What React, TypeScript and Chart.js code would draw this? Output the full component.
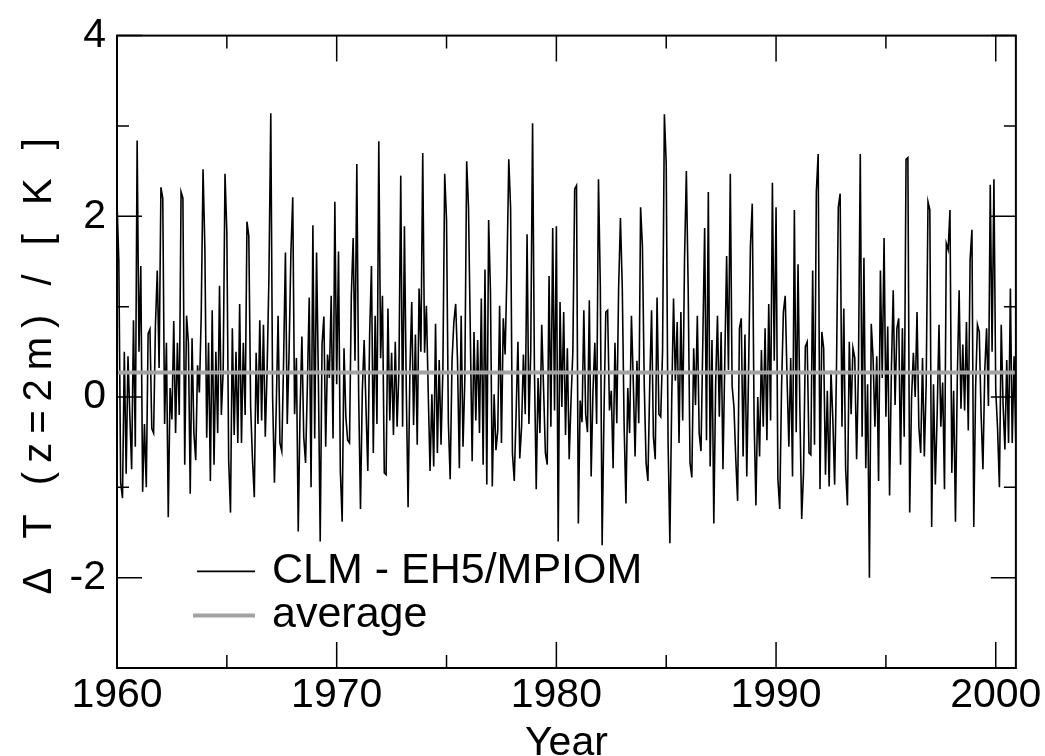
import React, { useEffect, useRef } from "react";
import { Chart, registerables } from "chart.js";

Chart.register(...registerables);

const FONT = '"Liberation Sans", Arial, Helvetica, sans-serif';

const START_YEAR = 1960;
const X_TICKS = [1960, 1970, 1980, 1990, 2000];
const X_MINOR = [1965, 1975, 1985, 1995];
const Y_TICKS = [-2, 0, 2, 4];
const Y_MINOR = [-1, 1, 3];
const Y_MIN = -3;
const Y_MAX = 4;

const X_TITLE = "Year";
const Y_TITLE = "Δ T (z=2m) / [ K ]";
const SERIES_LABEL = "CLM - EH5/MPIOM";
const AVERAGE_LABEL = "average";
const AVERAGE = 0.27;

// monthly 2 m temperature difference [K], Jan 1960 ... Dec 2000
const t1960s = [
  2.16, 1.5, -0.95, -1.12, 0.5, -0.85, 0.45, -0.2, -0.8, 0.85, -0.55, 2.84,
  0.5, 1.45, -1.05, -0.3, -1.0, 0.7, 0.75, -0.35, -0.4, 0.8, 1.4, 0.32,
  2.32, 2.2, -0.3, 0.6, -1.33, 0.1, -0.25, 0.84, -0.4, 0.6, -0.2, 2.27,
  2.2, -0.75, 0.9, 0.6, -1.07, 0.65, -0.4, -0.7, 0.35, 0.05, 0.9, 2.52,
  1.65, -0.45, 0.6, -0.93, 0.96, -0.75, 0.5, -0.4, 1.23, -0.2, 0.3, 2.47,
  1.82, -0.7, -1.28, 0.76, -0.42, 0.5, -0.51, 1.03, -0.51, 0.6, -0.2, 1.94,
  1.78, -0.11, -0.69, -1.11, 0.49, -0.3, 0.85, -0.26, 0.8, -0.44, 0.3, 1.34,
  3.14, 0.0, -0.95, -0.1, 0.9, -0.51, -0.6, 0.4, 1.6, -0.3, 0.5, 1.6,
  2.21, -0.19, 0.43, -1.49, -0.15, 0.67, -0.44, -0.73, 0.14, 1.1, -1.0, 1.9,
  -0.46, 1.6, 0.2, -1.6, 0.58, 0.89, -0.55, 0.47, 0.21, 1.12, -0.46, 2.16,
];
const t1970s = [
  0.14, 1.61, -0.82, -1.38, 0.54, -0.22, -0.48, -0.51, 1.12, 1.76, 0.4, 2.58,
  0.03, -1.24, 0.07, 0.63, -0.11, -0.82, 0.69, 1.45, -0.62, 0.9, -0.3, 2.83,
  0.43, 1.12, -0.84, -0.86, 0.98, -0.26, 0.49, -0.42, 0.61, -0.33, 0.3, 2.45,
  -0.33, 1.89, 0.1, -1.22, 0.29, 1.05, -0.31, 0.69, -0.53, 1.2, 0.5, 2.7,
  0.49, 1.01, 0.05, -0.82, 0.03, -0.77, 0.81, -0.62, 0.41, -0.53, 0.3, 2.47,
  1.96, -0.28, -0.91, 0.4, 0.83, 1.03, 0.4, -0.79, 0.9, -0.55, 0.2, 2.61,
  2.1, 0.69, -0.71, 0.72, -0.26, 0.63, -0.4, 1.09, -0.75, 1.41, -0.97, 1.96,
  1.16, -0.99, 0.03, -0.59, -0.37, 1.01, -0.51, 0.87, 0.47, 1.38, 2.63, 2.09,
  -0.62, -0.93, -0.19, 0.61, -0.68, -0.33, 0.47, -0.19, 1.8, -0.3, 0.5, 3.03,
  0.32, -1.02, 0.21, -0.4, 0.8, 0.1, -0.62, -0.75, 1.34, -0.33, 1.87, -0.15,
];
const t1980s = [
  1.89, -1.6, 1.05, -0.11, 0.94, -0.42, 0.54, -0.69, -0.04, 0.5, 2.3, 2.34,
  -1.4, -0.04, -0.28, 0.96, -0.19, -0.39, 1.07, -0.88, 0.07, 0.6, -0.3, 2.41,
  1.23, -1.64, -0.2, 0.94, 0.96, -0.15, 0.07, -0.79, 0.6, -0.29, 1.2, 1.98,
  1.21, -0.31, -1.18, 0.1, -0.4, 0.9, 0.18, -0.66, 0.4, -0.29, 2.1, 1.67,
  0.14, -0.73, -0.93, 0.14, 0.96, -0.44, -0.69, 1.1, -0.19, -0.22, 0.5, 3.13,
  2.58, -0.48, -1.62, -0.04, 1.09, 0.18, 0.83, -0.51, 0.94, -0.26, 1.52, 2.5,
  1.2, -0.73, -0.89, 0.54, -0.09, 0.9, -0.4, -0.6, 0.63, 1.87, -0.48, 2.27,
  -0.77, 0.63, -1.4, 0.14, 0.9, -0.22, 0.72, -0.8, 0.4, 1.56, 0.3, 2.47,
  0.12, -0.11, -0.69, -1.15, 0.76, 0.87, -0.66, 0.69, -0.88, 0.3, 1.67, 2.14,
  -0.24, -1.2, 0.0, -0.66, 0.52, -0.33, 0.76, -0.48, 1.03, -0.26, 2.37, 0.4,
];
const t1990s = [
  2.1, -0.91, -1.24, 0.1, 0.94, 1.12, 0.21, -0.55, 0.43, -0.88, 2.07, -0.39,
  1.47, -0.11, -1.35, -0.84, 0.56, 0.61, -0.62, -0.64, 1.4, -0.53, 2.27, 2.69,
  -1.02, 0.72, 0.54, -0.86, 0.07, -0.99, 0.29, -0.24, -0.97, 0.3, 2.1, 2.25,
  -0.33, 0.98, -0.8, -1.2, 0.61, -0.19, 0.54, 0.43, -0.69, 0.3, 2.69, -0.44,
  1.54, -0.79, 0.14, -2.0, 0.81, 0.43, -0.33, 0.45, -0.93, 1.4, 0.21, 1.76,
  -0.22, 0.78, -1.09, 0.3, 1.18, -0.09, 0.76, 0.87, -0.75, 0.76, -0.44, 2.63,
  2.65, -1.28, -0.02, 0.49, 0.0, 0.94, -0.33, -0.62, 0.43, -0.66, 0.14, 2.16,
  2.07, -1.44, 0.14, -0.97, -0.19, 0.8, -0.33, 0.16, -1.02, 1.7, 1.63, 2.07,
  -0.84, 0.07, -1.38, 0.21, 1.18, -0.13, 0.58, -0.15, 0.83, -0.37, 1.52, 1.85,
  -1.44, 0.1, 0.8, 0.72, -0.19, -0.8, 0.29, 0.76, -0.1, 2.35, 0.5, 2.41,
];
const t2000s = [
  0.07, -0.35, -1.0, 0.8, -0.08, -0.58, 0.41, -0.51, 1.2, -0.51, 0.45, -0.55,
];

export default function App() {
  const ref = useRef<HTMLCanvasElement>(null);

  useEffect(() => {
    if (!ref.current) return;
    const anomaly = [...t1960s, ...t1970s, ...t1980s, ...t1990s, ...t2000s];
    const points = anomaly.map((v, i) => ({ x: START_YEAR + i / 12, y: v }));
    const xEnd = START_YEAR + (anomaly.length - 1) / 12;
    const avgPoints = [
      { x: START_YEAR, y: AVERAGE },
      { x: xEnd, y: AVERAGE },
    ];

    const framePlugin = {
      id: "frame",
      afterDraw(chart: any) {
        const { ctx, chartArea: a, scales } = chart;
        const xs = scales.x;
        const ys = scales.y;
        ctx.save();
        ctx.strokeStyle = "#000";
        ctx.lineWidth = 2;
        ctx.strokeRect(a.left, a.top, a.right - a.left, a.bottom - a.top);
        ctx.lineWidth = 1.5;
        const vline = (px: number, len: number) => {
          ctx.beginPath();
          ctx.moveTo(px, a.bottom);
          ctx.lineTo(px, a.bottom - len);
          ctx.moveTo(px, a.top);
          ctx.lineTo(px, a.top + len);
          ctx.stroke();
        };
        const hline = (py: number, len: number) => {
          ctx.beginPath();
          ctx.moveTo(a.left, py);
          ctx.lineTo(a.left + len, py);
          ctx.moveTo(a.right, py);
          ctx.lineTo(a.right - len, py);
          ctx.stroke();
        };
        X_TICKS.forEach((v) => vline(xs.getPixelForValue(v), 26));
        X_MINOR.forEach((v) => vline(xs.getPixelForValue(v), 13));
        Y_TICKS.forEach((v) => hline(ys.getPixelForValue(v), 25));
        Y_MINOR.forEach((v) => hline(ys.getPixelForValue(v), 12));

        // legend
        const lx = a.left + 78;
        const ly1 = ys.getPixelForValue(-1.93);
        const ly2 = ys.getPixelForValue(-2.42);
        ctx.strokeStyle = "#000";
        ctx.lineWidth = 1.6;
        ctx.beginPath();
        ctx.moveTo(lx + 2, ly1);
        ctx.lineTo(lx + 60, ly1);
        ctx.stroke();
        ctx.strokeStyle = "#a3a3a3";
        ctx.lineWidth = 4;
        ctx.beginPath();
        ctx.moveTo(lx - 2, ly2);
        ctx.lineTo(lx + 60, ly2);
        ctx.stroke();
        ctx.fillStyle = "#000";
        ctx.font = `43px ${FONT}`;
        ctx.textBaseline = "middle";
        ctx.textAlign = "left";
        ctx.fillText(SERIES_LABEL, lx + 77, ly1);
        ctx.fillText(AVERAGE_LABEL, lx + 77, ly2);

        // y-axis title
        ctx.save();
        ctx.translate(40, (a.top + a.bottom) / 2 + 10);
        ctx.rotate(-Math.PI / 2);
        ctx.font = `40px ${FONT}`;
        ctx.textAlign = "center";
        ctx.textBaseline = "middle";
        (ctx as any).letterSpacing = "9px";
        ctx.fillText(Y_TITLE, 0, 0);
        ctx.restore();

        ctx.restore();
      },
    };

    const tickFont = { family: FONT, size: 41 };

    const chart = new Chart(ref.current, {
      type: "line",
      data: {
        datasets: [
          {
            label: AVERAGE_LABEL,
            data: avgPoints,
            borderColor: "#a3a3a3",
            borderWidth: 4,
            pointRadius: 0,
            order: 0,
          },
          {
            label: SERIES_LABEL,
            data: points,
            borderColor: "#000",
            borderWidth: 1.6,
            pointRadius: 0,
            tension: 0,
            order: 1,
          },
        ],
      },
      options: {
        responsive: false,
        animation: false,
        events: [],
        parsing: false,
        layout: { padding: { top: 26, right: 29, left: 0, bottom: 0 } },
        plugins: {
          legend: { display: false },
          tooltip: { enabled: false },
        },
        scales: {
          x: {
            type: "linear",
            min: START_YEAR,
            max: xEnd,
            afterBuildTicks: (s: any) => {
              s.ticks = X_TICKS.map((v) => ({ value: v }));
            },
            afterFit: (s: any) => {
              s.height = 88;
            },
            grid: { display: false, drawTicks: false },
            border: { display: false },
            ticks: {
              font: tickFont,
              color: "#000",
              padding: 3,
              maxRotation: 0,
              autoSkip: false,
              callback: (v: any) => String(v),
            },
            title: {
              display: true,
              text: X_TITLE,
              color: "#000",
              font: tickFont,
              padding: { top: 0, bottom: -12 },
            },
          },
          y: {
            type: "linear",
            min: Y_MIN,
            max: Y_MAX,
            afterBuildTicks: (s: any) => {
              s.ticks = Y_TICKS.map((v) => ({ value: v }));
            },
            afterFit: (s: any) => {
              s.width = 117;
            },
            grid: { display: false, drawTicks: false },
            border: { display: false },
            ticks: {
              font: tickFont,
              color: "#000",
              padding: 11,
              autoSkip: false,
              callback: (v: any) => String(v),
            },
            title: { display: false },
          },
        },
      },
      plugins: [framePlugin],
    } as any);

    return () => chart.destroy();
  }, []);

  return (
    <div
      style={{
        position: "absolute",
        left: 0,
        top: 0,
        width: 1045,
        height: 756,
        background: "#fff",
      }}
    >
      <canvas ref={ref} width={1045} height={756} style={{ display: "block" }} />
    </div>
  );
}
